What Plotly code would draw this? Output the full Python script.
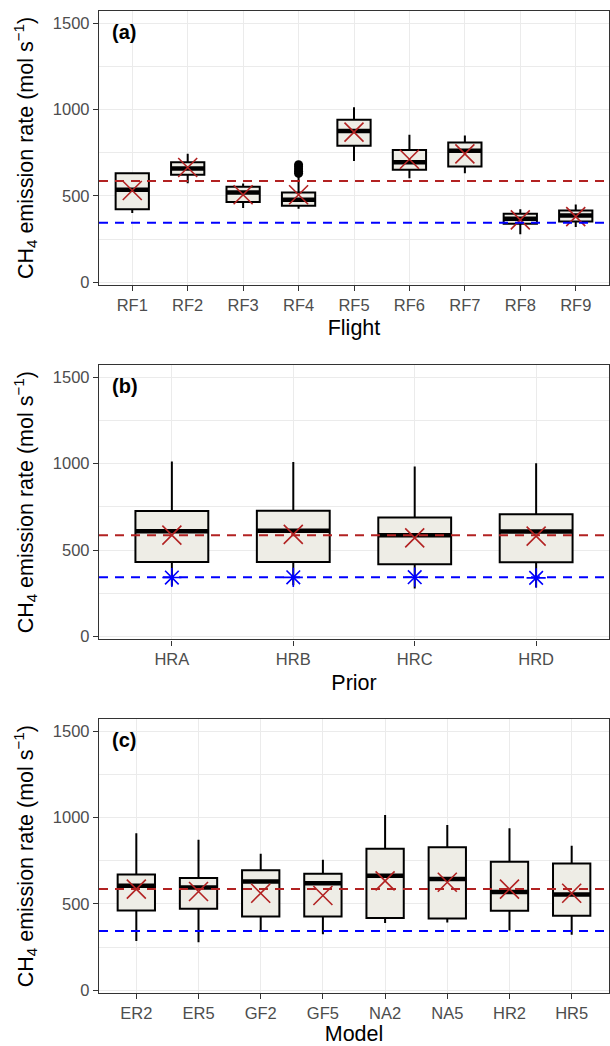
import plotly.graph_objects as go
from plotly.subplots import make_subplots

# ---------------- data ----------------
flights = ["RF1", "RF2", "RF3", "RF4", "RF5", "RF6", "RF7", "RF8", "RF9"]
a_lo = [400, 573, 430, 425, 701, 602, 631, 278, 319]
a_q1 = [423, 622, 465, 442, 790, 651, 670, 338, 351]
a_med = [535, 658, 519, 477, 876, 695, 761, 367, 386]
a_q3 = [631, 695, 552, 519, 940, 766, 809, 396, 415]
a_hi = [637, 743, 571, 612, 1013, 853, 849, 423, 450]
a_mean = [531, 664, 506, 506, 869, 712, 743, 361, 380]
a_out_cat = ["RF4", "RF4", "RF4", "RF4", "RF4"]
a_out_val = [630, 642, 655, 668, 680]

priors = ["HRA", "HRB", "HRC", "HRD"]
b_lo = [295, 297, 278, 284]
b_q1 = [432, 432, 419, 430]
b_med = [610, 612, 587, 608]
b_q3 = [726, 728, 689, 707]
b_hi = [1012, 1010, 983, 1002]
b_mean = [587, 591, 571, 581]
b_prior = [342, 343, 344, 340]

models = ["ER2", "ER5", "GF2", "GF5", "NA2", "NA5", "HR2", "HR5"]
c_lo = [286, 278, 346, 325, 389, 392, 346, 321]
c_q1 = [462, 472, 427, 427, 418, 416, 460, 431]
c_med = [605, 595, 630, 620, 663, 644, 570, 555]
c_q3 = [671, 651, 696, 675, 820, 829, 744, 735]
c_hi = [910, 872, 791, 756, 1015, 957, 939, 837]
c_mean = [586, 572, 562, 549, 634, 626, 586, 562]

ref_red = 586
ref_blue = 344

y_ticks = [0, 500, 1000, 1500]
y_minor = [250, 750, 1250]

# ---------------- style ----------------
FONT = "Liberation Sans, Arial, sans-serif"
BOX_FILL = "#EEEDE6"
RED = "#B22222"
BLUE = "#0000FF"
GRID = "#EBEBEB"
BORDER = "#333333"
BOX_W = 0.6

fig = make_subplots(rows=3, cols=1, vertical_spacing=0.08)

panels = [
    dict(cats=flights, lo=a_lo, q1=a_q1, med=a_med, q3=a_q3, hi=a_hi, mean=a_mean,
         xtitle="Flight", label="(a)"),
    dict(cats=priors, lo=b_lo, q1=b_q1, med=b_med, q3=b_q3, hi=b_hi, mean=b_mean,
         xtitle="Prior", label="(b)"),
    dict(cats=models, lo=c_lo, q1=c_q1, med=c_med, q3=c_q3, hi=c_hi, mean=c_mean,
         xtitle="Model", label="(c)"),
]

domains = [[0.721, 1.0], [0.360, 0.6395], [0.0, 0.2787]]

for i, p in enumerate(panels):
    row = i + 1
    sfx = "" if row == 1 else str(row)
    cats = p["cats"]
    pos = list(range(len(cats)))
    fig.add_trace(go.Box(
        x=pos, q1=p["q1"], median=p["med"], q3=p["q3"],
        lowerfence=p["lo"], upperfence=p["hi"],
        width=BOX_W, whiskerwidth=0, boxpoints=False,
        fillcolor=BOX_FILL, line=dict(color="black", width=2),
        showlegend=False, hoverinfo="skip"), row=row, col=1)
    # thick median bars
    mx, my = [], []
    for xp, m in zip(pos, p["med"]):
        mx += [xp - BOX_W / 2, xp + BOX_W / 2, None]
        my += [m, m, None]
    fig.add_trace(go.Scatter(x=mx, y=my, mode="lines",
                             line=dict(color="black", width=4.5),
                             showlegend=False, hoverinfo="skip"), row=row, col=1)
    if i == 0:
        ox = [cats.index(c) for c in a_out_cat]
        fig.add_trace(go.Scatter(x=ox, y=a_out_val, mode="markers",
                                 marker=dict(color="black", size=9, symbol="circle"),
                                 showlegend=False), row=row, col=1)
    # reference lines
    for val, col in [(ref_red, RED), (ref_blue, BLUE)]:
        fig.add_shape(type="line", xref=f"x{sfx} domain", yref=f"y{sfx}",
                      x0=0, x1=1, y0=val, y1=val,
                      line=dict(color=col, width=2, dash="9px,7px"), layer="above")
    if i == 1:
        fig.add_trace(go.Scatter(x=pos, y=b_prior, mode="markers",
                                 marker=dict(symbol="asterisk-open", size=16, color=BLUE,
                                             line=dict(color=BLUE, width=1.6)),
                                 showlegend=False), row=row, col=1)
    fig.add_trace(go.Scatter(x=pos, y=p["mean"], mode="markers",
                             marker=dict(symbol="x-thin-open", size=19, color=RED,
                                         line=dict(color=RED, width=1.6)),
                             showlegend=False), row=row, col=1)

    fig.update_xaxes(
        row=row, col=1, range=[-0.6, len(cats) - 0.4],
        tickmode="array", tickvals=pos, ticktext=cats,
        showgrid=True, gridcolor=GRID, gridwidth=1.3, zeroline=False,
        showline=True, mirror=True, linecolor=BORDER, linewidth=1.3,
        ticks="outside", ticklen=5, tickcolor=BORDER, tickwidth=1.3,
        tickfont=dict(family=FONT, size=16.5, color="#4D4D4D"),
        title=dict(text=p["xtitle"], font=dict(family=FONT, size=21.5, color="black"),
                   standoff=7),
    )
    fig.update_yaxes(
        row=row, col=1, range=[-16, 1570], domain=domains[i],
        tickmode="array", tickvals=y_ticks,
        showgrid=True, gridcolor=GRID, gridwidth=1.3, zeroline=False,
        minor=dict(tickmode="array", tickvals=y_minor, showgrid=True,
                   gridcolor=GRID, gridwidth=0.8, ticks=""),
        showline=True, mirror=True, linecolor=BORDER, linewidth=1.3,
        ticks="outside", ticklen=5, tickcolor=BORDER, tickwidth=1.3,
        tickfont=dict(family=FONT, size=16.5, color="#4D4D4D"),
        title=dict(text="CH<sub>4</sub> emission rate (mol s<sup>\u22121</sup>)",
                   font=dict(family=FONT, size=21.5, color="black"), standoff=13),
    )
    fig.add_annotation(
        text=f"<b>{p['label']}</b>", xref=f"x{sfx} domain",
        yref=f"y{sfx} domain", x=0.021, y=0.925,
        xanchor="left", yanchor="middle", showarrow=False,
        font=dict(family=FONT, size=20, color="black"))

fig.update_layout(
    width=610, height=1046,
    margin=dict(l=99, r=1, t=11, b=53),
    plot_bgcolor="white", paper_bgcolor="white",
    font=dict(family=FONT),
)

fig.write_html("out.html", config={"displayModeBar": False},
               post_script="document.body.style.margin='0px';")
